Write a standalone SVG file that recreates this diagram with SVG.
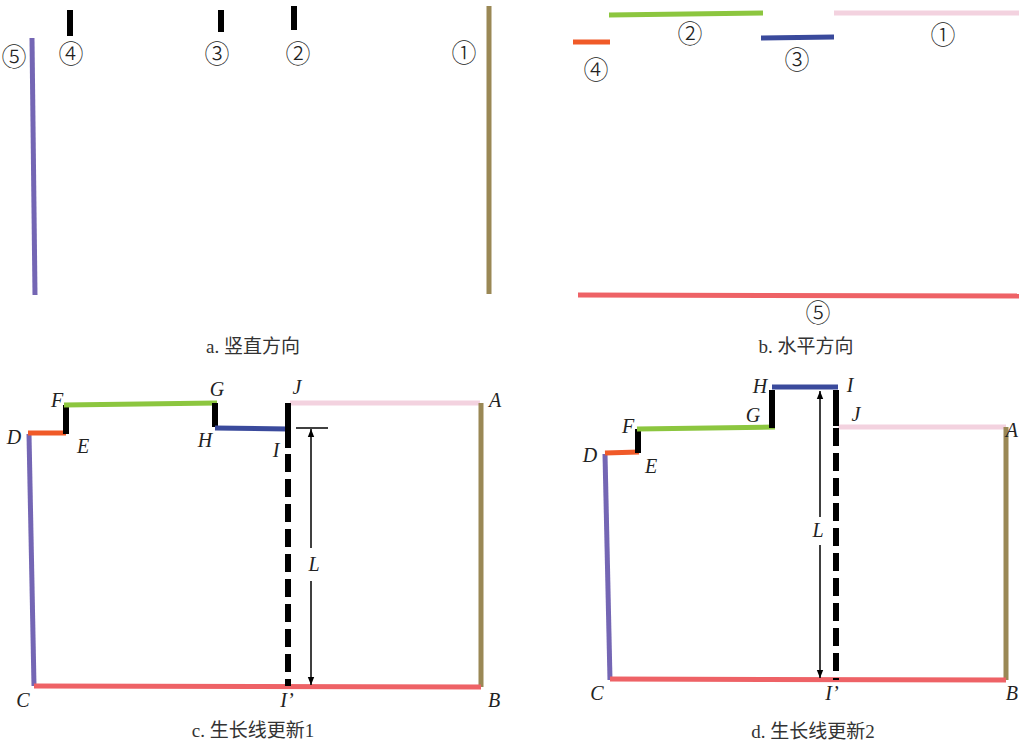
<svg xmlns="http://www.w3.org/2000/svg" width="1019" height="743" viewBox="0 0 1019 743">
<style>
.num{font-family:"Noto Sans CJK SC","DejaVu Serif",serif;font-size:25px;font-weight:300;fill:#222;text-anchor:middle}
.lab{font-family:"Liberation Serif",serif;font-style:italic;font-size:20px;fill:#222;text-anchor:middle}
.cap{font-family:"Liberation Serif","Noto Sans CJK SC",serif;font-size:19px;fill:#333;text-anchor:middle}
.pu{stroke:#7466b4;stroke-width:5;fill:none}
.ol{stroke:#9a8855;stroke-width:5;fill:none}
.pk{stroke:#f3d2df;stroke-width:5;fill:none}
.gr{stroke:#8cc63f;stroke-width:5;fill:none}
.bl{stroke:#3a4a9c;stroke-width:5;fill:none}
.or{stroke:#f05a28;stroke-width:5;fill:none}
.rd{stroke:#ee6266;stroke-width:5;fill:none}
.bk{stroke:#000;stroke-width:6;fill:none}
.dash{stroke:#000;stroke-width:6;fill:none;stroke-dasharray:18 7}
.ar{stroke:#000;stroke-width:1.5;fill:none}
</style>
<defs>
<marker id="ah" viewBox="0 0 10 10" refX="10" refY="5" markerWidth="8" markerHeight="8" orient="auto-start-reverse" markerUnits="userSpaceOnUse">
<path d="M0,1 L10,5 L0,9 Z" fill="#000"/>
</marker>
</defs>
<rect width="1019" height="743" fill="#fff"/>

<g id="panel-a">
<line class="pu" x1="32" y1="38" x2="35" y2="295"/>
<line class="bk" x1="70" y1="10" x2="70" y2="36"/>
<line class="bk" x1="221" y1="10" x2="221" y2="32"/>
<line class="bk" x1="294" y1="6" x2="294" y2="30"/>
<line class="ol" x1="489" y1="6" x2="489" y2="294"/>
<text class="num" x="14" y="66">⑤</text>
<text class="num" x="71" y="63">④</text>
<text class="num" x="217" y="63">③</text>
<text class="num" x="298" y="63">②</text>
<text class="num" x="464" y="62">①</text>
<text class="cap" x="253" y="353">a. 竖直方向</text>
</g>

<g id="panel-b">
<line class="or" x1="573" y1="42" x2="610" y2="42"/>
<line class="gr" x1="609" y1="15" x2="763" y2="13"/>
<line class="bl" x1="761" y1="38" x2="834" y2="37"/>
<line class="pk" x1="834" y1="13" x2="1019" y2="13"/>
<line class="rd" x1="578" y1="295" x2="1019" y2="296"/>
<text class="num" x="596" y="79">④</text>
<text class="num" x="690" y="43">②</text>
<text class="num" x="797" y="69">③</text>
<text class="num" x="943" y="44">①</text>
<text class="num" x="818" y="322">⑤</text>
<text class="cap" x="806" y="353">b. 水平方向</text>
</g>

<g id="panel-c">
<line class="pu" x1="29" y1="434" x2="34" y2="686"/>
<line class="or" x1="28" y1="433" x2="66" y2="433"/>
<line class="bk" x1="66" y1="405" x2="66" y2="434"/>
<line class="gr" x1="64" y1="405" x2="217" y2="403"/>
<line class="bk" x1="215" y1="403" x2="215" y2="427"/>
<line class="bl" x1="215" y1="428" x2="288" y2="429"/>
<line class="pk" x1="290" y1="403" x2="480" y2="403"/>
<line class="ol" x1="481" y1="403" x2="481" y2="687"/>
<line class="rd" x1="34" y1="686" x2="481" y2="687"/>
<line class="bk" x1="288" y1="403" x2="288" y2="448"/>
<line class="dash" x1="288" y1="454" x2="288" y2="686"/>
<line class="ar" x1="296" y1="428" x2="328" y2="428"/>
<line class="ar" x1="311" y1="429" x2="311" y2="548" marker-start="url(#ah)"/>
<line class="ar" x1="311" y1="581" x2="311" y2="685" marker-end="url(#ah)"/>
<text class="lab" x="14" y="444">D</text>
<text class="lab" x="83" y="453">E</text>
<text class="lab" x="57" y="407">F</text>
<text class="lab" x="217" y="396">G</text>
<text class="lab" x="205" y="447">H</text>
<text class="lab" x="276" y="457">I</text>
<text class="lab" x="297" y="394">J</text>
<text class="lab" x="495" y="407">A</text>
<text class="lab" x="314" y="571">L</text>
<text class="lab" x="23" y="707">C</text>
<text class="lab" x="287" y="707">I’</text>
<text class="lab" x="494" y="707">B</text>
<text class="cap" x="253" y="737">c. 生长线更新1</text>
</g>

<g id="panel-d">
<line class="pu" x1="605" y1="454" x2="610" y2="680"/>
<line class="or" x1="605" y1="453" x2="639" y2="452"/>
<line class="bk" x1="638" y1="429" x2="638" y2="453"/>
<line class="gr" x1="637" y1="429" x2="775" y2="427"/>
<line class="bk" x1="772" y1="390" x2="772" y2="428"/>
<line class="bl" x1="772" y1="387" x2="838" y2="387"/>
<line class="pk" x1="838" y1="427" x2="1006" y2="427"/>
<line class="ol" x1="1006" y1="427" x2="1006" y2="680"/>
<line class="rd" x1="610" y1="679" x2="1006" y2="680"/>
<line class="bk" x1="836" y1="390" x2="836" y2="426"/>
<line class="dash" x1="836" y1="428" x2="836" y2="680"/>
<line class="ar" x1="820" y1="391" x2="820" y2="517" marker-start="url(#ah)"/>
<line class="ar" x1="820" y1="545" x2="820" y2="678" marker-end="url(#ah)"/>
<text class="lab" x="590" y="462">D</text>
<text class="lab" x="651" y="473">E</text>
<text class="lab" x="628" y="433">F</text>
<text class="lab" x="753" y="422">G</text>
<text class="lab" x="760" y="393">H</text>
<text class="lab" x="850" y="392">I</text>
<text class="lab" x="856" y="421">J</text>
<text class="lab" x="1018" y="437" style="text-anchor:end">A</text>
<text class="lab" x="818" y="537">L</text>
<text class="lab" x="597" y="700">C</text>
<text class="lab" x="832" y="700">I’</text>
<text class="lab" x="1018" y="700" style="text-anchor:end">B</text>
<text class="cap" x="813" y="738">d. 生长线更新2</text>
</g>
</svg>
